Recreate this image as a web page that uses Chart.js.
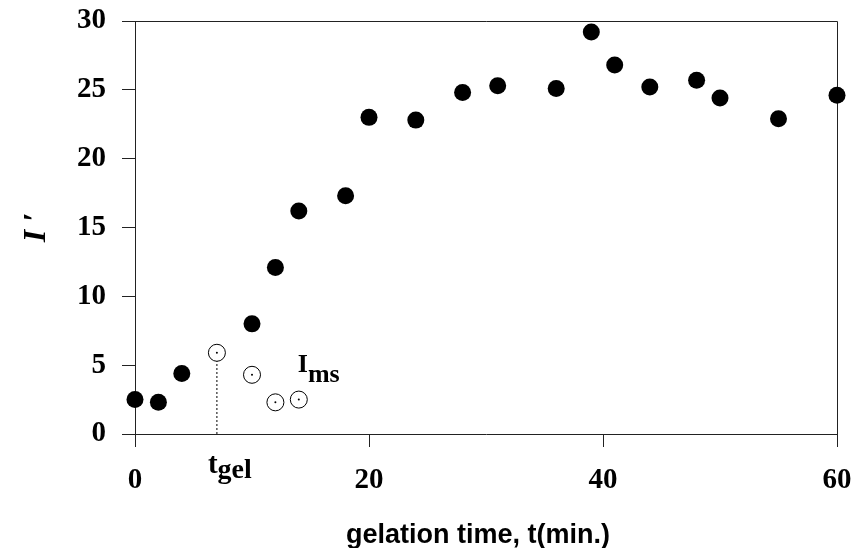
<!DOCTYPE html>
<html>
<head>
<meta charset="utf-8">
<script src="https://cdn.jsdelivr.net/npm/chart.js@4/dist/chart.umd.min.js"></script>
<style>
  html, body { margin: 0; padding: 0; background: #fff; }
  canvas { display: block; }
</style>
</head>
<body>
<canvas id="chart" width="854" height="548"></canvas>
<script>
// gelation data
const timeFull = [0, 2, 4, 10, 12, 14, 18, 20, 24, 28, 31, 36, 39, 41, 44, 48, 50, 55, 60];
const intensity = [2.5, 2.3, 4.4, 8.0, 12.1, 16.2, 17.3, 23.0, 22.8, 24.8, 25.3, 25.1, 29.2, 26.8, 25.2, 25.7, 24.4, 22.9, 24.6];

// open circles (I_ms)
const timeMs = [7, 10, 12, 14];
const intensityMs = [5.9, 4.3, 2.3, 2.5];

// dotted marker for t_gel
const gelX = [7, 7];
const gelY = [0, 5.3];

const xTicks = [0, 20, 40, 60];
const yTicks = [0, 5, 10, 15, 20, 25, 30];

const toPoints = (xs, ys) => xs.map((x, i) => ({ x: x, y: ys[i] }));

const axisColor = '#222';
const tickFont = { family: 'Liberation Serif', weight: 'bold', size: 29 };

// draw "main" with a subscript after it
function drawSub(ctx, main, sub, x, y, font, subFont, drop) {
    ctx.font = font;
    ctx.fillText(main, x, y);
    const w = ctx.measureText(main).width;
    ctx.font = subFont;
    ctx.fillText(sub, x + w, y + drop);
}

// keep tick labels from pushing the plot area around
function noPadding(s) {
    s.paddingTop = 0;
    s.paddingBottom = 0;
    s.paddingLeft = 0;
    s.paddingRight = 0;
}

const extras = {
    id: 'extras',
    beforeDatasetsDraw(chart) {
        const { ctx, chartArea: a } = chart;
        ctx.save();
        ctx.strokeStyle = axisColor;
        ctx.lineWidth = 1;
        ctx.beginPath();
        ctx.moveTo(a.left, a.top + 0.5);
        ctx.lineTo(a.right + 0.5, a.top + 0.5);
        ctx.lineTo(a.right + 0.5, a.bottom);
        ctx.stroke();
        ctx.restore();
    },
    afterDraw(chart) {
        const { ctx, chartArea: a, scales: { x, y } } = chart;
        ctx.save();
        ctx.fillStyle = '#000';
        ctx.textBaseline = 'alphabetic';
        ctx.textAlign = 'left';

        // t_gel under the dotted line
        drawSub(ctx, 't', 'gel', x.getPixelForValue(gelX[0]) - 9, a.bottom + 39,
            'bold 29px "Liberation Serif"', 'bold 28px "Liberation Serif"', 5);

        // I_ms next to the open circles
        drawSub(ctx, 'I', 'ms', x.getPixelForValue(14) - 1, y.getPixelForValue(4.5),
            'bold 26px "Liberation Serif"', 'bold 26px "Liberation Serif"', 10);

        // x axis title
        ctx.textAlign = 'center';
        ctx.font = 'bold 27px "Liberation Sans"';
        ctx.fillText('gelation time, t(min.)', (a.left + a.right) / 2 - 8, 543);
        ctx.restore();
    }
};

new Chart(document.getElementById('chart'), {
    type: 'scatter',
    data: {
        datasets: [
            {
                type: 'line',
                data: toPoints(gelX, gelY),
                borderColor: '#000',
                borderWidth: 1,
                borderDash: [2, 2],
                pointRadius: 0,
                fill: false,
                order: 3,
            },
            {
                data: toPoints(timeFull, intensity),
                backgroundColor: '#000',
                borderWidth: 0,
                pointRadius: 8.5,
                clip: false,
                order: 2,
            },
            {
                data: toPoints(timeMs, intensityMs),
                backgroundColor: '#fff',
                borderColor: '#000',
                borderWidth: 1,
                pointRadius: 8.5,
                clip: false,
                order: 1,
            },
            {
                data: toPoints(timeMs, intensityMs),
                backgroundColor: '#000',
                borderWidth: 0,
                pointRadius: 1,
                clip: false,
                order: 0,
            },
        ],
    },
    options: {
        responsive: false,
        animation: false,
        layout: { padding: { top: 21, right: 17, left: 0, bottom: 0 } },
        plugins: {
            legend: { display: false },
            tooltip: { enabled: false },
        },
        scales: {
            x: {
                type: 'linear',
                min: 0,
                max: 60,
                afterBuildTicks: (s) => { s.ticks = xTicks.map((v) => ({ value: v })); },
                afterFit: (s) => { s.height = 114; noPadding(s); },
                ticks: { font: tickFont, color: '#000', padding: 16 },
                grid: { drawOnChartArea: false, tickLength: 13, color: axisColor },
                border: { color: axisColor },
            },
            y: {
                min: 0,
                max: 30,
                afterBuildTicks: (s) => { s.ticks = yTicks.map((v) => ({ value: v })); },
                afterFit: (s) => { s.width = 135; noPadding(s); },
                ticks: { font: tickFont, color: '#000', padding: 16 },
                grid: { drawOnChartArea: false, tickLength: 13, color: axisColor },
                border: { color: axisColor },
                title: {
                    display: true,
                    text: 'I \u2032',
                    color: '#000',
                    font: { family: 'Liberation Serif', weight: 'bold', style: 'italic', size: 32 },
                    padding: { top: 18, bottom: 0 },
                },
            },
        },
    },
    plugins: [extras],
});
</script>
</body>
</html>
